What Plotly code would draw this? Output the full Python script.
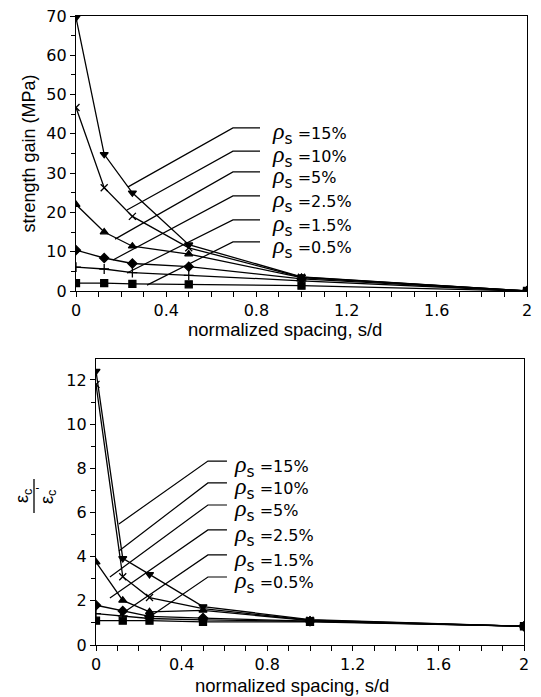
import plotly.graph_objects as go

# ---------------- data ----------------
spacing = [0, 0.125, 0.25, 0.5, 1, 2]
series_names = ["ρs =15%", "ρs =10%", "ρs =5%", "ρs =2.5%", "ρs =1.5%", "ρs =0.5%"]
label_text = ["=15%", "=10%", "=5%", "=2.5%", "=1.5%", "=0.5%"]
symbols = ["triangle-down", "x-thin-open", "triangle-up", "diamond", "cross-thin-open", "square"]

gain_15 = [69.6, 34.8, 25.0, 11.8, 3.6, 0.0]
gain_10 = [46.7, 26.3, 19.0, 11.0, 3.5, 0.0]
gain_5 = [22.0, 15.0, 11.4, 9.4, 3.4, 0.0]
gain_2_5 = [10.4, 8.4, 7.0, 6.2, 3.1, 0.0]
gain_1_5 = [6.1, 5.6, 4.7, 4.0, 2.6, 0.0]
gain_0_5 = [2.0, 2.0, 1.8, 1.7, 1.35, 0.0]
gain = [gain_15, gain_10, gain_5, gain_2_5, gain_1_5, gain_0_5]

strain_15 = [12.4, 3.92, 3.2, 1.74, 1.15, 0.85]
strain_10 = [11.8, 3.09, 2.15, 1.65, 1.12, 0.85]
strain_5 = [3.75, 2.02, 1.5, 1.57, 1.1, 0.85]
strain_2_5 = [1.8, 1.54, 1.3, 1.22, 1.08, 0.85]
strain_1_5 = [1.42, 1.32, 1.2, 1.14, 1.07, 0.85]
strain_0_5 = [1.1, 1.1, 1.1, 1.05, 1.05, 0.85]
strain = [strain_15, strain_10, strain_5, strain_2_5, strain_1_5, strain_0_5]

# leader-line geometry (curve end x, curve end y, label y) per label
top_leaders = [(0.231, 26.5, 41.5), (0.226, 20.6, 35.6), (0.173, 13.2, 30.3),
               (0.164, 7.9, 24.2), (0.226, 4.6, 18.1), (0.315, 1.5, 12.5)]
top_corner_x, top_right_x, top_text_x = 0.696, 0.816, 0.862
bot_leaders = [(0.107, 5.48, 8.33), (0.107, 4.26, 7.34), (0.065, 3.08, 6.34),
               (0.065, 2.13, 5.21), (0.112, 1.36, 4.08), (0.243, 1.22, 3.08)]
bot_corner_x, bot_right_x, bot_text_x = 0.523, 0.612, 0.636

FONT = "Liberation Sans, Arial, sans-serif"
WIDE = "DejaVu Sans, Verdana, sans-serif"
W, H = 541, 697
OFF = 8  # page body margin


def px(v):
    return (v - OFF) / W


def py(v):
    return 1 - (v - OFF) / H


fig = go.Figure()
for i in range(6):
    for xa, ya, vals in (("x", "y", gain[i]), ("x2", "y2", strain[i])):
        fig.add_trace(go.Scatter(
            x=spacing, y=vals, mode="lines+markers", name=series_names[i],
            line=dict(color="black", width=1.3),
            marker=dict(symbol=symbols[i], size=7, color="black",
                        line=dict(color="black", width=1.3)),
            xaxis=xa, yaxis=ya, showlegend=False))

shapes = []
annotations = []


def label_html(t):
    return ("<span style='font-size:24px;font-family:Liberation Serif'><i>ρ</i></span>"
            "<span style='font-size:22px'><sub>s</sub></span> " + t)


for i, (ex, ey, ly) in enumerate(top_leaders):
    shapes.append(dict(type="path", xref="x", yref="y",
                       path=f"M {ex},{ey} L {top_corner_x},{ly} L {top_right_x},{ly}",
                       line=dict(color="black", width=1.2)))
    annotations.append(dict(xref="x", yref="y", x=top_text_x, y=ly, xanchor="left",
                            yanchor="middle", showarrow=False, yshift=-5,
                            text=label_html(label_text[i]),
                            font=dict(family=WIDE, size=16, color="black")))
for i, (ex, ey, ly) in enumerate(bot_leaders):
    shapes.append(dict(type="path", xref="x2", yref="y2",
                       path=f"M {ex},{ey} L {bot_corner_x},{ly} L {bot_right_x},{ly}",
                       line=dict(color="black", width=1.2)))
    annotations.append(dict(xref="x2", yref="y2", x=bot_text_x, y=ly, xanchor="left",
                            yanchor="middle", showarrow=False, yshift=-5,
                            text=label_html(label_text[i]),
                            font=dict(family=WIDE, size=16, color="black")))

# x-axis titles
annotations.append(dict(xref="paper", yref="paper", x=px(285), y=py(329),
                        xanchor="center", yanchor="middle", showarrow=False,
                        text="normalized spacing, s/d",
                        font=dict(family=FONT, size=18.5, color="black")))
annotations.append(dict(xref="paper", yref="paper", x=px(292), y=py(685),
                        xanchor="center", yanchor="middle", showarrow=False,
                        text="normalized spacing, s/d",
                        font=dict(family=FONT, size=18.5, color="black")))

# fraction y-title for bottom chart
annotations.append(dict(xref="paper", yref="paper", x=px(23), y=py(496),
                        xanchor="center", yanchor="middle",
                        text="ε<sub>c</sub>", textangle=-90, showarrow=False,
                        font=dict(family=FONT, size=18, color="black")))
annotations.append(dict(xref="paper", yref="paper", x=px(46), y=py(496),
                        xanchor="center", yanchor="middle",
                        text="ε<sub>c</sub><sup>'</sup>", textangle=-90, showarrow=False,
                        font=dict(family=FONT, size=18, color="black")))
shapes.append(dict(type="line", xref="paper", yref="paper",
                   x0=px(34), x1=px(34), y0=py(479), y1=py(513),
                   line=dict(color="black", width=1.3)))

axis_common = dict(showgrid=False, zeroline=False, showline=True, linecolor="black",
                   linewidth=1.3, mirror=True, ticks="outside", ticklen=5, tickwidth=1.2,
                   tickcolor="black", automargin=False, ticklabeloverflow="allow",
                   tickfont=dict(family=WIDE, size=16, color="black"))
xticks = [0, 0.4, 0.8, 1.2, 1.6, 2]
xticktext = ["0", "0.4", "0.8", "1.2", "1.6", "2"]

fig.update_layout(
    width=W, height=H, plot_bgcolor="white", paper_bgcolor="white",
    margin=dict(l=0, r=0, t=0, b=0, autoexpand=False),
    font=dict(family=FONT, color="black"),
    xaxis=dict(axis_common, domain=[px(76), px(527)], range=[0, 2],
               tickvals=xticks, ticktext=xticktext,
               minor=dict(dtick=0.1, ticks="outside", ticklen=5, tickcolor="black", tickwidth=1.2),
               anchor="y"),
    yaxis=dict(axis_common, domain=[py(291), py(16)], range=[0, 70],
               tickvals=[0, 10, 20, 30, 40, 50, 60, 70],
               minor=dict(dtick=5, ticks="outside", ticklen=4, tickcolor="black", tickwidth=1.2),
               title=dict(text="strength gain (MPa)", standoff=5,
                          font=dict(family=FONT, size=18, color="black")),
               anchor="x"),
    xaxis2=dict(axis_common, domain=[px(96), px(524)], range=[0, 2],
                tickvals=xticks, ticktext=xticktext,
                minor=dict(dtick=0.1, ticks="outside", ticklen=5, tickcolor="black", tickwidth=1.2),
                anchor="y2"),
    yaxis2=dict(axis_common, domain=[py(645), py(359)], range=[0, 12.95],
                tickvals=[0, 2, 4, 6, 8, 10, 12],
                minor=dict(dtick=1, ticks="outside", ticklen=4, tickcolor="black", tickwidth=1.2),
                anchor="x2"),
    shapes=shapes, annotations=annotations,
)

fig.write_html("out.html")
